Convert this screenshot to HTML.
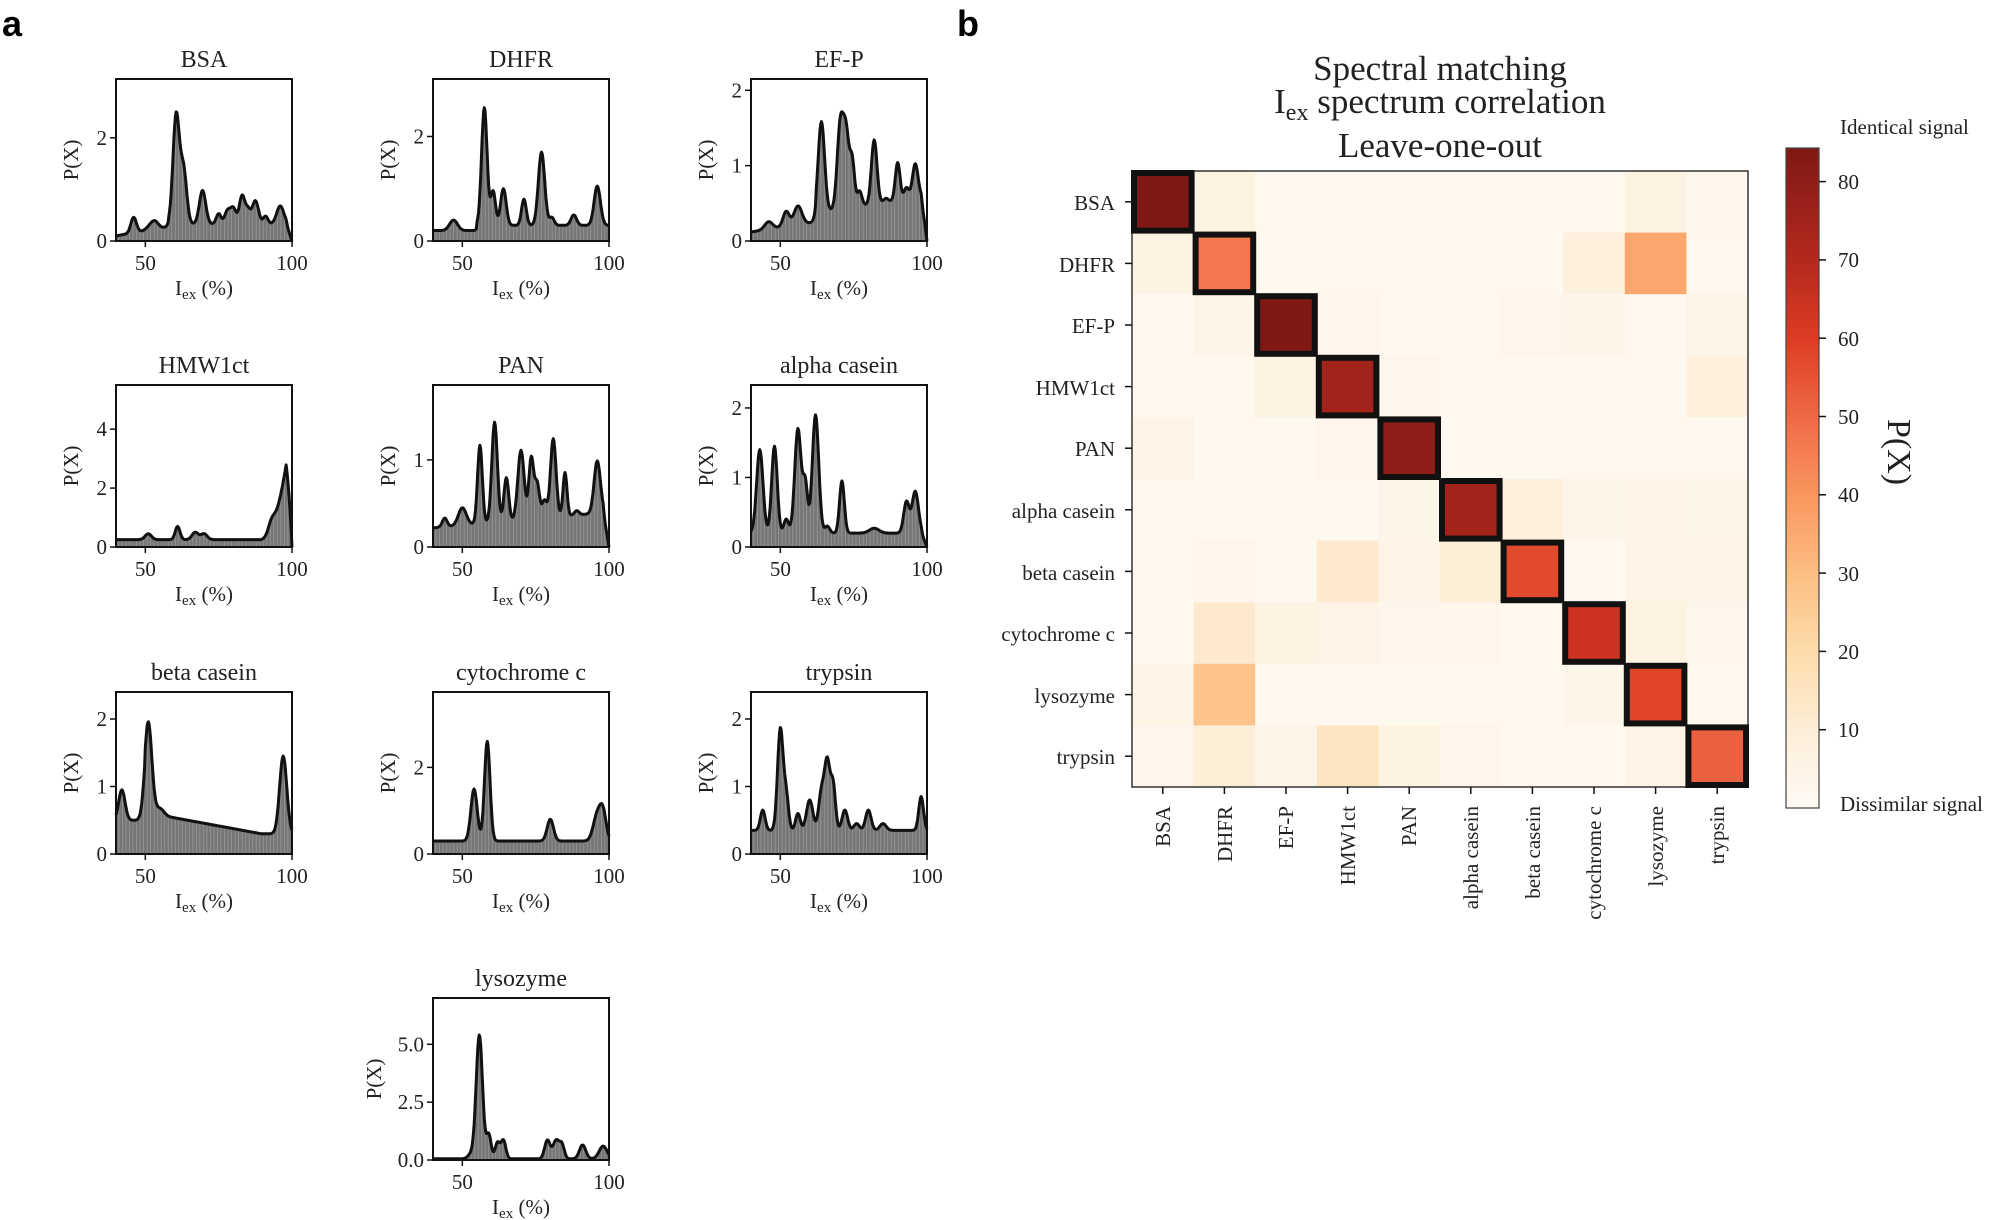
<!DOCTYPE html>
<html><head><meta charset="utf-8"><style>
html,body{margin:0;padding:0;background:#fff;}
svg{display:block;font-family:"Liberation Serif",serif;}
.t{font-size:24px;text-anchor:middle;fill:#222}
</style></head><body>
<svg id="s" width="1999" height="1220" viewBox="0 0 1999 1220" xmlns="http://www.w3.org/2000/svg">
<rect width="1999" height="1220" fill="#fff"/>
<text x="2" y="36" font-family="Liberation Sans" font-weight="bold" font-size="36">a</text>
<text x="957" y="36" font-family="Liberation Sans" font-weight="bold" font-size="36">b</text>
<g id="panels"></g>
<g>
<text x="204" y="67" class="t">BSA</text>
<text x="521" y="67" class="t">DHFR</text>
<text x="839" y="67" class="t">EF-P</text>
<text x="204" y="373" class="t">HMW1ct</text>
<text x="521" y="373" class="t">PAN</text>
<text x="839" y="373" class="t">alpha casein</text>
<text x="204" y="680" class="t">beta casein</text>
<text x="521" y="680" class="t">cytochrome c</text>
<text x="839" y="680" class="t">trypsin</text>
<text x="521" y="986" class="t">lysozyme</text>
</g>
<g id="hm"></g>
<g font-size="35" text-anchor="middle" fill="#222">
<text x="1440" y="80">Spectral matching</text>
<text x="1440" y="113"><tspan>I</tspan><tspan font-size="24" dy="7">ex</tspan><tspan dy="-7"> spectrum correlation</tspan></text>
<text x="1440" y="157">Leave-one-out</text>
</g>
<g font-size="21" text-anchor="end" fill="#222">
<text x="1115" y="210">BSA</text><text x="1115" y="272">DHFR</text><text x="1115" y="333">EF-P</text>
<text x="1115" y="395">HMW1ct</text><text x="1115" y="456">PAN</text><text x="1115" y="518">alpha casein</text>
<text x="1115" y="580">beta casein</text><text x="1115" y="641">cytochrome c</text><text x="1115" y="703">lysozyme</text>
<text x="1115" y="764">trypsin</text>
</g>
<g font-size="21" text-anchor="end" fill="#222">
<text transform="translate(1170,806) rotate(-90)">BSA</text>
<text transform="translate(1232,806) rotate(-90)">DHFR</text>
<text transform="translate(1293,806) rotate(-90)">EF-P</text>
<text transform="translate(1355,806) rotate(-90)">HMW1ct</text>
<text transform="translate(1416,806) rotate(-90)">PAN</text>
<text transform="translate(1478,806) rotate(-90)">alpha casein</text>
<text transform="translate(1540,806) rotate(-90)">beta casein</text>
<text transform="translate(1601,806) rotate(-90)">cytochrome c</text>
<text transform="translate(1663,806) rotate(-90)">lysozyme</text>
<text transform="translate(1724,806) rotate(-90)">trypsin</text>
</g>
<g font-size="21" fill="#222">
<text x="1840" y="134">Identical signal</text>
<text x="1840" y="811">Dissimilar signal</text>
<text x="1838" y="189">80</text><text x="1838" y="267">70</text><text x="1838" y="346">60</text>
<text x="1838" y="424">50</text><text x="1838" y="502">40</text><text x="1838" y="581">30</text>
<text x="1838" y="659">20</text><text x="1838" y="737">10</text>
<text transform="translate(1888,452) rotate(90)" font-size="34" text-anchor="middle">P(X)</text>
</g>
</svg>
<script>
var NS="http://www.w3.org/2000/svg";
function el(t,a,p){var e=document.createElementNS(NS,t);for(var k in a)e.setAttribute(k,a[k]);(p||document.getElementById('s')).appendChild(e);return e;}
function tx(str,a,p){var e=el('text',a,p);e.textContent=str;return e;}
var P=[
 {x:116,y:79,ym:3.14,ticks:[0,2],tl:['0','2'],b:function(x){return x<58?0.1+0.01*(x-40):0.33},pk:[[46,.3,.7],[52,.1,1],[53.5,.1,.8],[60.5,2.1,.8],[63,1.05,.8],[69.5,.65,.8],[75,.2,.6],[78,.25,.7],[80,.3,.7],[83,.55,.7],[85,.25,.6],[87.5,.45,.8],[91,.15,.6],[96,.35,.9]],end:1},
 {x:433,y:79,ym:3.1,ticks:[0,2],tl:['0','2'],b:function(x){return x<55?0.2:0.3},pk:[[47,.2,1],[57.5,2.25,.7],[60.5,.65,.6],[64,.7,.7],[71,.5,.6],[77,1.4,.8],[80.5,.15,.6],[88,.2,.7],[96,.75,.8]],end:0},
 {x:751,y:79,ym:2.15,ticks:[0,1,2],tl:['0','1','2'],b:function(x){return 0.12+Math.max(0,x-40)*0.006+(x>62?0.12:0)},pk:[[46,.1,1],[52,.2,.8],[56,.25,1],[64,1.2,.8],[70.5,1.15,.8],[72.5,.9,.7],[74.5,.6,.6],[77,.2,.6],[82,.85,.7],[86,.05,.6],[90,.5,.6],[93,.15,.6],[96,.45,.7]],end:1},
 {x:116,y:385,ym:5.5,ticks:[0,2,4],tl:['0','2','4'],b:function(x){return x<89?0.25:0.25+Math.pow((x-89)/10,2.2)*3.2},pk:[[51,.2,.8],[61,.45,.6],[67,.25,.8],[70,.2,.8],[93,.3,.8]],end:1},
 {x:433,y:385,ym:1.86,ticks:[0,1],tl:['0','1'],b:function(x){return 0.22+Math.max(0,x-40)*0.003},pk:[[44,.1,.6],[50,.2,1],[56,.9,.6],[61,1.15,.7],[65,.5,.6],[70,.8,.8],[73.5,.7,.6],[75.5,.4,.6],[78,.2,.6],[81,.9,.7],[85,.5,.5],[89,.05,.6],[96,.6,.8]],end:1},
 {x:751,y:385,ym:2.33,ticks:[0,1,2],tl:['0','1','2'],b:function(x){return 0.2},pk:[[43,1.2,.8],[48,1.25,.7],[52,.2,.6],[56,1.5,.8],[58.5,.7,.6],[62,1.7,.8],[66,.1,.6],[71,.75,.6],[82,.07,1.2],[93,.45,.7],[96,.6,.8]],end:1},
 {x:116,y:692,ym:2.4,ticks:[0,1,2],tl:['0','1','2'],b:function(x){return x<50?0.5:Math.max(0.3,0.6-(x-52)*0.008)},pk:[[42,.45,.8],[51,1.35,.9],[55,.1,1],[97,1.15,.9]],end:0},
 {x:433,y:692,ym:3.74,ticks:[0,2],tl:['0','2'],b:function(x){return 0.3},pk:[[54,1.2,.8],[58.5,2.3,.7],[80,.5,.8],[96,.6,1],[98,.6,.8]],end:0},
 {x:751,y:692,ym:2.4,ticks:[0,1,2],tl:['0','1','2'],b:function(x){return 0.35},pk:[[44,.3,.6],[50,1.5,.7],[52,.5,.6],[56,.25,.6],[60,.45,.8],[64,.55,.7],[66,1.0,.7],[68,.65,.6],[72,.3,.7],[76,.1,.7],[80,.3,.7],[85,.1,.8],[98,.5,.6]],end:0},
 {x:433,y:998,ym:7.0,ticks:[0,2.5,5],tl:['0.0','2.5','5.0'],b:function(x){return 0.05},pk:[[53,.2,.8],[55.8,5.35,.8],[59,1.05,.6],[62,.7,.6],[64,.8,.6],[79,.8,.7],[82,.8,.8],[84,.55,.6],[91,.6,.8],[98,.55,1]],end:0}
];
var W=176,H=162,pg=document.getElementById('panels'),WS=1.35;
P.forEach(function(p){
 var g=el('g',{transform:'translate('+p.x+','+p.y+')'},pg);
 function f(x){var v=p.b(x);p.pk.forEach(function(k){var w=k[2]*WS;v+=k[1]*Math.exp(-(x-k[0])*(x-k[0])/(2*w*w));});if(p.end&&x>98)v*=(100-x)/2;return v;}
 function X(x){return (x-40)/60*W;} function Y(v){return H-v/p.ym*H;}
 var d='M0,'+H,l='';
 for(var i=0;i<=240;i++){var x=40+i*0.25;var yy=Y(f(x));d+=' L'+X(x).toFixed(1)+','+yy.toFixed(1);l+=(i?' L':'M')+X(x).toFixed(1)+','+yy.toFixed(1);}
 d+=' L'+W+','+H+' Z';
 el('path',{d:d,fill:'#767676'},g);
 var bl='';for(var x=41;x<100;x+=1.2){bl+='M'+X(x).toFixed(1)+','+H+' V'+(Y(f(x))+2).toFixed(1)+' ';}
 el('path',{d:bl,stroke:'#999','stroke-width':0.8},g);
 el('path',{d:l,fill:'none',stroke:'#111','stroke-width':3,'stroke-linejoin':'round'},g);
 el('rect',{x:0,y:0,width:W,height:H,fill:'none',stroke:'#111','stroke-width':2},g);
 [50,100].forEach(function(v){el('line',{x1:X(v),x2:X(v),y1:H,y2:H+6,stroke:'#111','stroke-width':1.5},g);tx(String(v),{x:X(v),y:H+29,'font-size':21,'text-anchor':'middle',fill:'#222'},g);});
 p.ticks.forEach(function(v,i){el('line',{x1:-6,x2:0,y1:Y(v),y2:Y(v),stroke:'#111','stroke-width':1.5},g);tx(p.tl[i],{x:-9,y:Y(v)+7,'font-size':21,'text-anchor':'end',fill:'#222'},g);});
 tx('P(X)',{transform:'translate('+(p.tl[0].length>1?-52:-38)+','+H/2+') rotate(-90)','font-size':21,'text-anchor':'middle',fill:'#222'},g);
 var t=tx('',{x:W/2,y:H+54,'font-size':21,'text-anchor':'middle',fill:'#222'},g);
 var a=document.createElementNS(NS,'tspan');a.textContent='I';t.appendChild(a);
 var b=document.createElementNS(NS,'tspan');b.setAttribute('font-size','15');b.setAttribute('dy','4');b.textContent='ex';t.appendChild(b);
 var c=document.createElementNS(NS,'tspan');c.setAttribute('dy','-4');c.textContent=' (%)';t.appendChild(c);
});
var M=[[84,7,2,2,2,2,2,2,6,3],[6,47,2,2,2,2,2,8,36,2],[2,4,84,3,2,2,3,4,2,4],[2,2,6,75,3,2,2,2,2,8],[5,2,2,3,80,2,2,2,2,2],[2,2,2,2,4,75,8,4,5,4],[2,3,2,12,5,10,57,2,5,5],[2,12,6,5,3,3,2,64,7,3],[5,28,2,2,2,2,2,4,58,2],[3,10,4,15,7,3,2,2,5,52]];
var st=[[0,[255,250,245]],[10,[253,238,215]],[20,[253,220,170]],[30,[252,190,130]],[40,[249,150,95]],[50,[239,105,70]],[60,[220,60,35]],[70,[180,40,30]],[84,[128,25,20]]];
function cm(v){for(var i=0;i<st.length-1;i++){if(v<=st[i+1][0]){var t=(v-st[i][0])/(st[i+1][0]-st[i][0]);var a=st[i][1],b=st[i+1][1];return 'rgb('+[0,1,2].map(function(k){return Math.round(a[k]+(b[k]-a[k])*t)}).join(',')+')';}}return 'rgb(128,25,20)';}
var hm=document.getElementById('hm'),X0=1132,Y0=171,C=61.6;
for(var r=0;r<10;r++)for(var c=0;c<10;c++)el('rect',{x:X0+c*C,y:Y0+r*C,width:C+0.5,height:C+0.5,fill:cm(M[r][c])},hm);
el('rect',{x:X0,y:Y0,width:616,height:616,fill:'none',stroke:'#333','stroke-width':1.5},hm);
for(var i=0;i<10;i++){el('rect',{x:X0+i*C+2,y:Y0+i*C+2,width:C-4,height:C-4,fill:'none',stroke:'#111','stroke-width':6},hm);
 el('line',{x1:X0-7,x2:X0,y1:Y0+(i+.5)*C,y2:Y0+(i+.5)*C,stroke:'#111','stroke-width':1.5},hm);
 el('line',{y1:Y0+616,y2:Y0+623,x1:X0+(i+.5)*C,x2:X0+(i+.5)*C,stroke:'#111','stroke-width':1.5},hm);}
var gr=el('linearGradient',{id:'cb',x1:0,y1:1,x2:0,y2:0},hm);
st.forEach(function(s){el('stop',{offset:(s[0]/84.3).toFixed(3),'stop-color':cm(s[0])},gr);});
el('rect',{x:1786,y:148,width:33,height:660,fill:'url(#cb)',stroke:'#444','stroke-width':1.2},hm);
for(var v=10;v<=80;v+=10){var y=808-7.83*v;el('line',{x1:1819,x2:1826,y1:y,y2:y,stroke:'#111','stroke-width':1.5},hm);}
</script>
</body></html>
